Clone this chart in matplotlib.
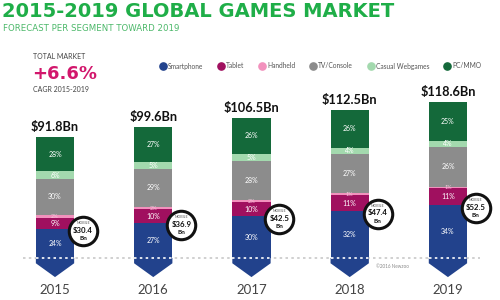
import numpy as np
import matplotlib.pyplot as plt
from matplotlib.lines import Line2D

years = ['2015', '2016', '2017', '2018', '2019']
totals = [91.8, 99.6, 106.5, 112.5, 118.6]
total_labels = ['$91.8Bn', '$99.6Bn', '$106.5Bn', '$112.5Bn', '$118.6Bn']
mobile = ['$30.4', '$36.9', '$42.5', '$47.4', '$52.5']

segments = ['Smartphone', 'Tablet', 'Handheld', 'TV/Console', 'Casual Webgames', 'PC/MMO']
smartphone = [24, 27, 30, 32, 34]
tablet = [9, 10, 10, 11, 11]
handheld = [2, 2, 2, 1, 1]
console = [30, 29, 28, 27, 26]
webgames = [6, 5, 5, 4, 4]
pcmmo = [28, 27, 26, 26, 25]

colors = ['#22428c', '#a0105f', '#f291bd', '#8c8c8c', '#a3d9ae', '#14693a']
green = '#1fae48'

fig = plt.figure(figsize=(5, 3), dpi=100)
ax = fig.add_axes([0, 0, 1, 1])
ax.set_xlim(-0.56, 4.53)
ax.set_ylim(-31.9, 196)
ax.axis('off')

x = np.arange(len(years))
w = 0.39
pct = np.array([smartphone, tablet, handheld, console, webgames, pcmmo], dtype=float)
vals = pct / pct.sum(axis=0) * np.array(totals)

# arrow tip below the baseline
for xi in x:
    ax.fill([xi - w / 2, xi + w / 2, xi + w / 2, xi, xi - w / 2],
            [0, 0, -4, -14.5, -4], color=colors[0], lw=0, zorder=2)

bottom = np.zeros(len(years))
for k, name in enumerate(segments):
    ax.bar(x, vals[k], w, bottom=bottom, color=colors[k], label=name, zorder=2)
    for i in x:
        fs = 5 if pct[k, i] > 3 else 4
        tc = 'white' if k != 2 else '#f7c6dc'
        ax.text(i, bottom[i] + vals[k, i] / 2, '%d%%' % pct[k, i], color=tc,
                fontsize=fs, ha='center', va='center', family='Lato', zorder=3)
    bottom += vals[k]

# dotted baseline
ax.hlines(0, -0.33, 4.33, colors='#c8c8c8', linestyles=(0, (1.5, 2)), lw=1.2, zorder=1)
ax.hlines(np.zeros(len(years)), x - w / 2, x + w / 2, colors='white',
          linestyles=(0, (1.5, 2)), lw=1.2, zorder=3)

for i in x:
    ax.text(i, totals[i] + 7.5, total_labels[i], fontsize=9.2, fontweight='bold',
            family='Lato', ha='center', va='center', color='#111111')
    ax.text(i, -24.5, years[i], fontsize=9.5, family='Lato', ha='center',
            va='center', color='#444444')
    cy = vals[0, i] - 2
    ax.scatter(i + 0.285, cy, s=420, color='white', edgecolors='#111111',
               linewidths=2.2, zorder=4)
    ax.text(i + 0.285, cy + 6.2, 'MOBILE', fontsize=2.6, family='Lato',
            ha='center', va='center', color='#555555', zorder=5)
    ax.text(i + 0.285, cy + 0.6, mobile[i], fontsize=5.6, fontweight='bold',
            family='Lato', ha='center', va='center', color='#111111', zorder=5)
    ax.text(i + 0.285, cy - 5.6, 'Bn', fontsize=4.6, fontweight='bold',
            family='Lato', ha='center', va='center', color='#111111', zorder=5)

ax.text(3.27, -6.8, '\u00a92016 Newzoo', fontsize=3.3, family='Lato',
        ha='left', va='center', color='#888888')

fig.text(0.004, 0.963, '2015-2019 GLOBAL GAMES MARKET', fontsize=14,
         fontweight='bold', color=green, ha='left', va='center')
fig.text(0.006, 0.905, 'FORECAST PER SEGMENT TOWARD 2019', fontsize=6.2,
         color='#4cb86a', ha='left', va='center')
fig.text(0.066, 0.81, 'TOTAL MARKET', fontsize=5, family='Lato',
         color='#444444', ha='left', va='center')
fig.text(0.064, 0.753, '+6.6%', fontsize=13, fontweight='bold',
         color='#d2176c', ha='left', va='center')
fig.text(0.066, 0.703, 'CAGR 2015-2019', fontsize=5, family='Lato',
         color='#444444', ha='left', va='center')

handles = [Line2D([], [], marker='o', ls='', markersize=5.2, color=c) for c in colors]
fig.legend(handles, segments, loc='center', bbox_to_anchor=(0.64, 0.78), ncol=6,
           frameon=False, prop={'family': 'Lato', 'size': 4.8}, handletextpad=0.2,
           columnspacing=2.0, handlelength=1.2, labelcolor='#555555')

fig.savefig('out.png', dpi=100)
plt.close()
